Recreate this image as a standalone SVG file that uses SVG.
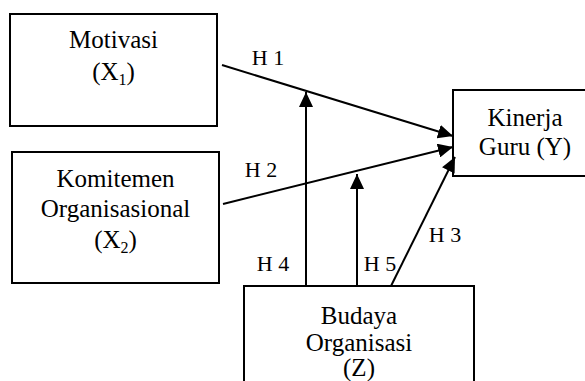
<svg xmlns="http://www.w3.org/2000/svg" width="585" height="381" viewBox="0 0 585 381">
<style>
.box{fill:#fff;stroke:#000;stroke-width:2}
text{font-family:'Liberation Serif',serif;fill:#000;text-anchor:middle}
.t{font-size:25px}
.sub{font-size:16px}
.lbl{font-size:22px}
.c{stroke:#000;stroke-width:2;fill:none}
</style>
<defs>
<marker id="ah" viewBox="0 0 15 14" refX="15" refY="7" orient="auto" markerUnits="userSpaceOnUse" markerWidth="15" markerHeight="14"><path d="M0,0 L15,7 L0,14 z" fill="#000"/></marker>
</defs>
<rect width="585" height="381" fill="#fff"/>
<g id="motivasi">
<rect class="box" x="10" y="14" width="207" height="112"/>
<text class="t" x="113.5" y="48">Motivasi</text>
<text class="t" x="113.5" y="80">(X<tspan class="sub" dy="5">1</tspan><tspan dy="-5">)</tspan></text>
</g>
<g id="komitemen">
<rect class="box" x="12" y="152" width="207" height="131"/>
<text class="t" x="115.5" y="187">Komitemen</text>
<text class="t" x="115.5" y="217">Organisasional</text>
<text class="t" x="115.5" y="248">(X<tspan class="sub" dy="5">2</tspan><tspan dy="-5">)</tspan></text>
</g>
<g id="kinerja">
<rect class="box" x="453" y="90" width="145" height="86"/>
<text class="t" x="525" y="126">Kinerja</text>
<text class="t" x="525" y="155">Guru (Y)</text>
</g>
<g id="budaya">
<rect class="box" x="244" y="286" width="230" height="110"/>
<text class="t" x="359" y="324">Budaya</text>
<text class="t" x="359" y="351">Organisasi</text>
<text class="t" x="359" y="376">(Z)</text>
</g>
<g id="connectors">
<line class="c" x1="222" y1="65" x2="453" y2="136" marker-end="url(#ah)"/>
<line class="c" x1="223" y1="204" x2="453" y2="147" marker-end="url(#ah)"/>
<line class="c" x1="391" y1="286" x2="455" y2="157" marker-end="url(#ah)"/>
<line class="c" x1="306" y1="286" x2="306" y2="92" marker-end="url(#ah)"/>
<line class="c" x1="357" y1="286" x2="357" y2="174" marker-end="url(#ah)"/>
</g>
<g id="labels">
<text class="lbl" x="268" y="65">H 1</text>
<text class="lbl" x="261" y="177">H 2</text>
<text class="lbl" x="445" y="242">H 3</text>
<text class="lbl" x="273" y="271">H 4</text>
<text class="lbl" x="380" y="271">H 5</text>
</g>
</svg>
